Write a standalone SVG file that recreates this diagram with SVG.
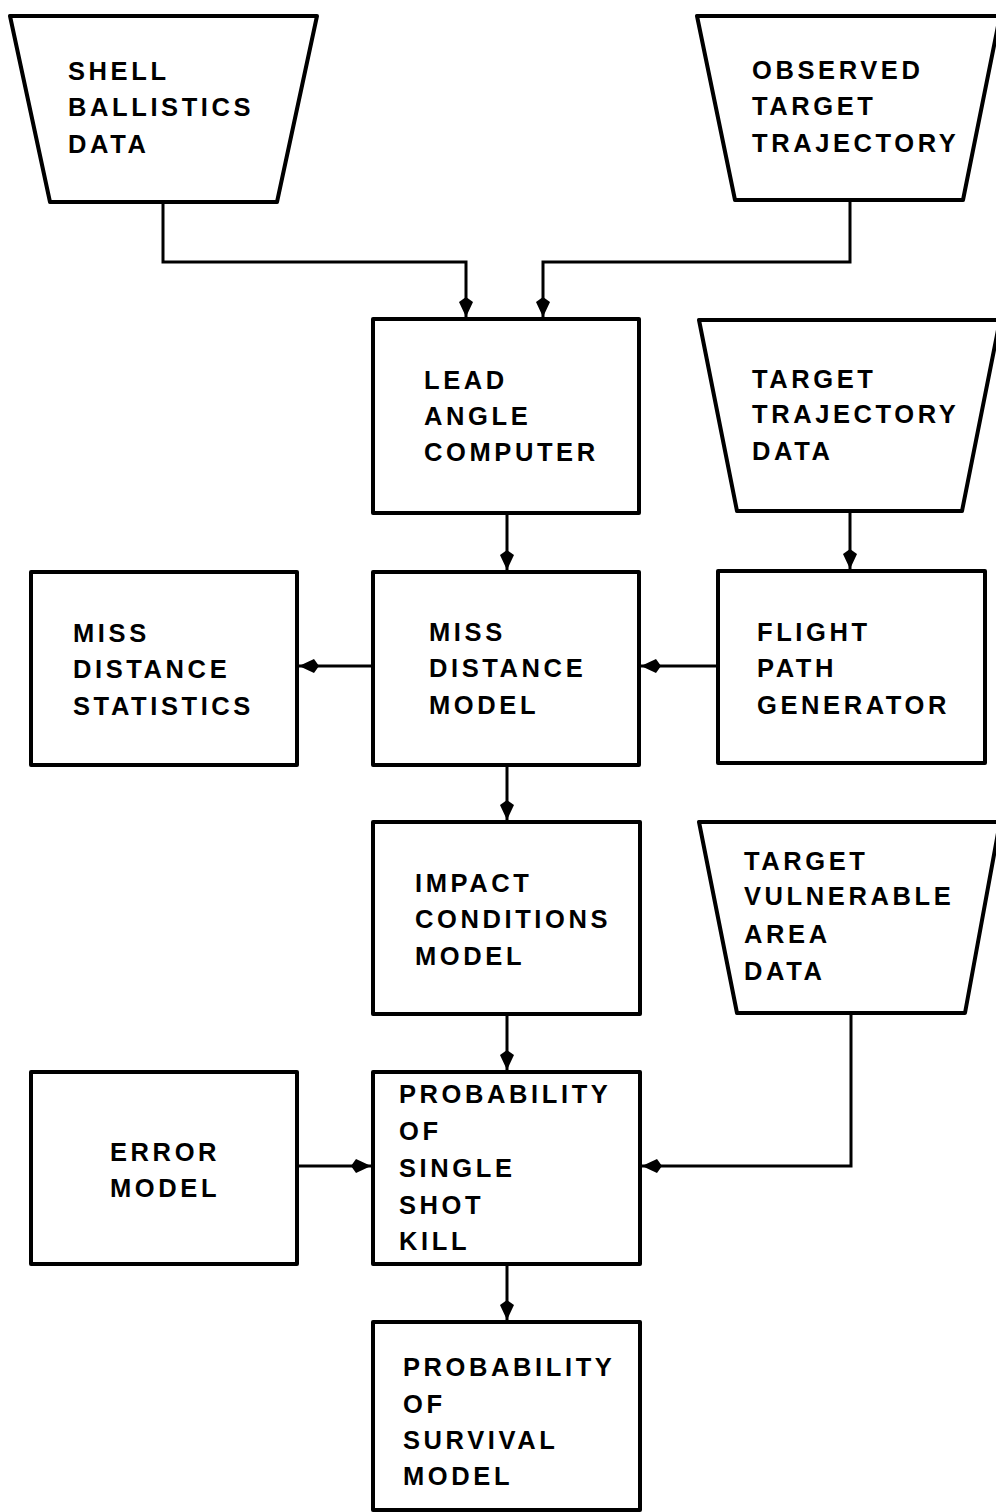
<svg xmlns="http://www.w3.org/2000/svg" width="996" height="1512" viewBox="0 0 996 1512">
<style>
.n{fill:#fff;stroke:#000;stroke-width:4;stroke-linejoin:round}
.t{font-family:"Liberation Sans",Arial,sans-serif;font-weight:bold;font-size:25.5px;letter-spacing:3.6px;fill:#000}
.c{fill:none;stroke:#000;stroke-width:3}
</style>
<defs>
<marker id="ah" markerUnits="userSpaceOnUse" markerWidth="22" markerHeight="16" viewBox="0 0 22 16" refX="20" refY="8" orient="auto">
<path d="M0,8 L5,1 L20,8 L5,15 z" fill="#000"/>
</marker>
</defs>
<rect width="996" height="1512" fill="#fff"/>
<g id="connectors">
<polyline class="c" points="163,202 163,262 466,262 466,317" marker-end="url(#ah)"/>
<polyline class="c" points="850,202 850,262 543,262 543,317" marker-end="url(#ah)"/>
<line class="c" x1="507" y1="513" x2="507" y2="570" marker-end="url(#ah)"/>
<line class="c" x1="850" y1="511" x2="850" y2="569" marker-end="url(#ah)"/>
<line class="c" x1="373" y1="666" x2="299" y2="666" marker-end="url(#ah)"/>
<line class="c" x1="718" y1="666" x2="641" y2="666" marker-end="url(#ah)"/>
<line class="c" x1="507" y1="765" x2="507" y2="820" marker-end="url(#ah)"/>
<line class="c" x1="507" y1="1014" x2="507" y2="1070" marker-end="url(#ah)"/>
<line class="c" x1="297" y1="1166" x2="371" y2="1166" marker-end="url(#ah)"/>
<polyline class="c" points="851,1013 851,1166 642,1166" marker-end="url(#ah)"/>
<line class="c" x1="507" y1="1264" x2="507" y2="1320" marker-end="url(#ah)"/>
</g>
<g id="shell">
<polygon class="n" points="10,16 317,16 277,202 50,202"/>
<text class="t"><tspan x="68" y="80">SHELL</tspan><tspan x="68" y="116">BALLISTICS</tspan><tspan x="68" y="153">DATA</tspan></text>
</g>
<g id="observed">
<polygon class="n" points="697,16 1000,16 963,200 735,200"/>
<text class="t"><tspan x="752" y="79">OBSERVED</tspan><tspan x="752" y="115">TARGET</tspan><tspan x="752" y="152">TRAJECTORY</tspan></text>
</g>
<g id="lead">
<rect class="n" x="373" y="319" width="266" height="194"/>
<text class="t"><tspan x="424" y="389">LEAD</tspan><tspan x="424" y="425">ANGLE</tspan><tspan x="424" y="461">COMPUTER</tspan></text>
</g>
<g id="trajdata">
<polygon class="n" points="699,320 1000,320 962,511 737,511"/>
<text class="t"><tspan x="752" y="388">TARGET</tspan><tspan x="752" y="423">TRAJECTORY</tspan><tspan x="752" y="460">DATA</tspan></text>
</g>
<g id="mdstats">
<rect class="n" x="31" y="572" width="266" height="193"/>
<text class="t"><tspan x="73" y="642">MISS</tspan><tspan x="73" y="678">DISTANCE</tspan><tspan x="73" y="715">STATISTICS</tspan></text>
</g>
<g id="mdmodel">
<rect class="n" x="373" y="572" width="266" height="193"/>
<text class="t"><tspan x="429" y="641">MISS</tspan><tspan x="429" y="677">DISTANCE</tspan><tspan x="429" y="714">MODEL</tspan></text>
</g>
<g id="flight">
<rect class="n" x="718" y="571" width="267" height="192"/>
<text class="t"><tspan x="757" y="641">FLIGHT</tspan><tspan x="757" y="677">PATH</tspan><tspan x="757" y="714">GENERATOR</tspan></text>
</g>
<g id="impact">
<rect class="n" x="373" y="822" width="267" height="192"/>
<text class="t"><tspan x="415" y="892">IMPACT</tspan><tspan x="415" y="928">CONDITIONS</tspan><tspan x="415" y="965">MODEL</tspan></text>
</g>
<g id="vulnerable">
<polygon class="n" points="699,822 1000,822 965,1013 737,1013"/>
<text class="t"><tspan x="744" y="870">TARGET</tspan><tspan x="744" y="905">VULNERABLE</tspan><tspan x="744" y="943">AREA</tspan><tspan x="744" y="980">DATA</tspan></text>
</g>
<g id="error">
<rect class="n" x="31" y="1072" width="266" height="192"/>
<text class="t"><tspan x="110" y="1161">ERROR</tspan><tspan x="110" y="1197">MODEL</tspan></text>
</g>
<g id="pssk">
<rect class="n" x="373" y="1072" width="267" height="192"/>
<text class="t"><tspan x="399" y="1103">PROBABILITY</tspan><tspan x="399" y="1140">OF</tspan><tspan x="399" y="1177">SINGLE</tspan><tspan x="399" y="1214">SHOT</tspan><tspan x="399" y="1250">KILL</tspan></text>
</g>
<g id="survival">
<rect class="n" x="373" y="1322" width="267" height="188"/>
<text class="t"><tspan x="403" y="1376">PROBABILITY</tspan><tspan x="403" y="1413">OF</tspan><tspan x="403" y="1449">SURVIVAL</tspan><tspan x="403" y="1485">MODEL</tspan></text>
</g>
</svg>
